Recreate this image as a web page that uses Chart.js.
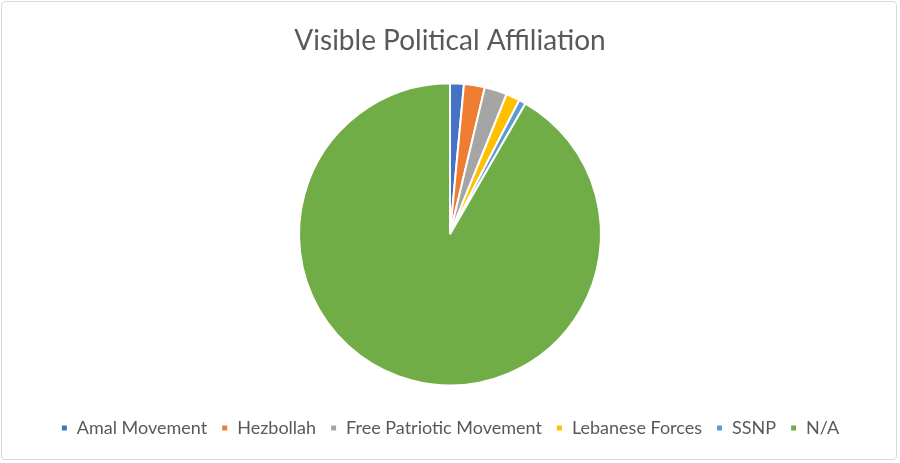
<!DOCTYPE html>
<html>
<head>
<meta charset="utf-8">
<script src="https://cdn.jsdelivr.net/npm/chart.js@4"></script>
<style>
    html, body { margin: 0; padding: 0; background: #fff; }
    .frame {
        position: absolute; left: 1px; top: 1px;
        width: 896px; height: 459px;
        border: 1px solid #d9d9d9; border-radius: 4px;
        box-sizing: border-box;
    }
    .wrap { position: absolute; left: 0; top: 0; width: 900px; height: 463px; }
</style>
</head>
<body>
<div class="frame"></div>
<div class="wrap"><canvas id="pieChart" width="900" height="463"></canvas></div>
<script>
// Datos del gráfico
const categories = ['Amal Movement', 'Hezbollah', 'Free Patriotic Movement', 'Lebanese Forces', 'SSNP', 'N/A'];
const counts = [4, 6, 6.5, 4, 2, 247.5];
const sliceColors = ['#4472c4', '#ed7d31', '#a5a5a5', '#ffc000', '#5b9bd5', '#70ad47'];

const textColor = '#595959';

const ctx = document.getElementById('pieChart').getContext('2d');
const pieChart = new Chart(ctx, {
    type: 'pie',
    data: {
        labels: categories,
        datasets: [{
            data: counts,
            backgroundColor: sliceColors,
            borderColor: '#ffffff',
            borderWidth: 2,
            radius: 151
        }]
    },
    options: {
        responsive: false,
        animation: false,
        layout: { padding: { top: 12, bottom: 16, left: 0, right: 0 } },
        plugins: {
            title: {
                display: true,
                text: 'Visible Political Affiliation',
                color: textColor,
                font: { family: 'Lato', size: 28, weight: 'normal' },
                padding: { top: 12, bottom: 6 }
            },
            legend: {
                position: 'bottom',
                labels: {
                    color: textColor,
                    font: { family: 'Lato', size: 18 },
                    boxWidth: 7,
                    boxHeight: 7,
                    padding: 14
                }
            },
            tooltip: { enabled: false }
        }
    }
});
</script>
</body>
</html>
